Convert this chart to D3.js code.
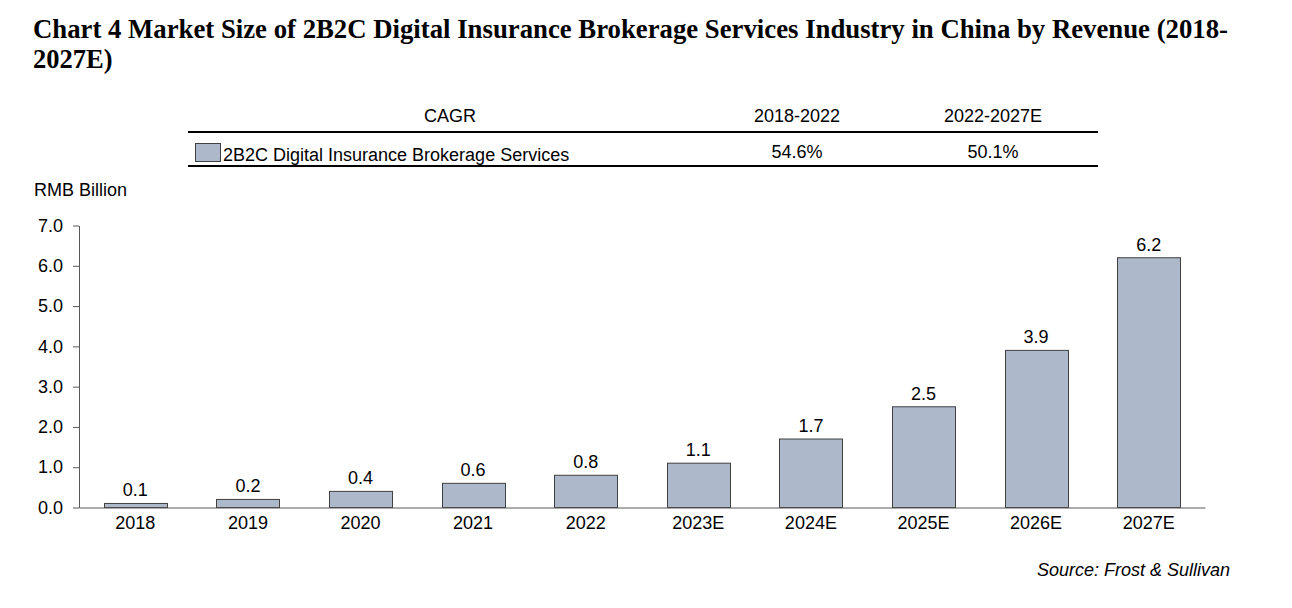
<!DOCTYPE html>
<html><head><meta charset="utf-8">
<script src="https://cdn.jsdelivr.net/npm/d3@7"></script>
<style>body{margin:0;background:#fff;} svg{display:block;}</style>
</head><body>
<svg id="c" width="1292" height="608"></svg>
<script>
const categories = ["2018","2019","2020","2021","2022","2023E","2024E","2025E","2026E","2027E"];
const values = [0.1,0.2,0.4,0.6,0.8,1.1,1.7,2.5,3.9,6.2];
const yTicks = [0,1,2,3,4,5,6,7];
const cagrPeriods = ["2018-2022","2022-2027E"];
const cagrValues = ["54.6%","50.1%"];
const seriesName = "2B2C Digital Insurance Brokerage Services";

const svg = d3.select("#c");
const sans = "Liberation Sans, Arial, sans-serif";
const fs = 18;
const fill = "#adb9ca", stroke = "#404040", axisC = "#595959";

const serif = "Liberation Serif, Times New Roman, serif";
svg.append("text").attr("x",33).attr("y",38).attr("font-family",serif)
  .attr("font-weight","bold").attr("font-size",26.5).attr("fill","#000")
  .attr("textLength",1195).attr("lengthAdjust","spacingAndGlyphs")
  .text("Chart 4 Market Size of 2B2C Digital Insurance Brokerage Services Industry in China by Revenue (2018-");
svg.append("text").attr("x",33).attr("y",68).attr("font-family",serif)
  .attr("font-weight","bold").attr("font-size",26.5).attr("fill","#000").text("2027E)");

// CAGR table
const colX = [797, 993];
svg.append("text").attr("x",450).attr("y",122).attr("text-anchor","middle").attr("font-family",sans).attr("font-size",fs).text("CAGR");
cagrPeriods.forEach((p,i)=>svg.append("text").attr("x",colX[i]).attr("y",122).attr("text-anchor","middle").attr("font-family",sans).attr("font-size",fs).text(p));
svg.append("line").attr("x1",188).attr("x2",1098).attr("y1",132).attr("y2",132).attr("stroke","#000").attr("stroke-width",2);
svg.append("line").attr("x1",188).attr("x2",1098).attr("y1",166).attr("y2",166).attr("stroke","#000").attr("stroke-width",2);
svg.append("rect").attr("x",195.5).attr("y",143.5).attr("width",25).attr("height",18).attr("fill",fill).attr("stroke",stroke).attr("stroke-width",1);
svg.append("text").attr("x",223).attr("y",161).attr("font-family",sans).attr("font-size",fs).text(seriesName);
cagrValues.forEach((v,i)=>svg.append("text").attr("x",colX[i]).attr("y",158).attr("text-anchor","middle").attr("font-family",sans).attr("font-size",fs).text(v));

svg.append("text").attr("x",34).attr("y",196).attr("font-family",sans).attr("font-size",fs).text("RMB Billion");

const x0 = 79, x1 = 1205, yTop = 225.5, yBot = 507.5;
const x = d3.scaleBand().domain(categories).range([x0,x1]).paddingInner(0.44).paddingOuter(0.22);
const y = d3.scaleLinear().domain([0,7]).range([yBot,yTop]);

const yAxis = d3.axisLeft(y).tickValues(yTicks).tickFormat(d3.format(".1f")).tickSize(6).tickSizeOuter(0).tickPadding(10);
const gy = svg.append("g").attr("transform",`translate(${x0},0)`).call(yAxis);
gy.select(".domain").attr("stroke",axisC);
gy.selectAll(".tick line").attr("stroke",axisC);
gy.selectAll(".tick text").attr("font-family",sans).attr("font-size",fs).attr("fill","#000");

svg.selectAll("rect.bar").data(values).enter().append("rect").attr("class","bar")
  .attr("x",(d,i)=>Math.round(x(categories[i]))+0.5).attr("width",Math.round(x.bandwidth()))
  .attr("y",d=>y(d)).attr("height",d=>yBot-y(d))
  .attr("fill",fill).attr("stroke",stroke).attr("stroke-width",1);

svg.selectAll("text.val").data(values).enter().append("text").attr("class","val")
  .attr("x",(d,i)=>x(categories[i])+x.bandwidth()/2).attr("y",d=>y(d)-7)
  .attr("text-anchor","middle").attr("font-family",sans).attr("font-size",fs).text(d=>d.toFixed(1));

const xAxis = d3.axisBottom(x).tickSize(0).tickPadding(9);
const gx = svg.append("g").attr("transform",`translate(0,${yBot})`).call(xAxis);
gx.select(".domain").attr("stroke",axisC);
gx.selectAll(".tick text").attr("font-family",sans).attr("font-size",fs).attr("fill","#000");

svg.append("text").attr("x",1230).attr("y",576).attr("text-anchor","end").attr("font-family",sans)
  .attr("font-style","italic").attr("font-size",fs).text("Source: Frost & Sullivan");
</script>
</body></html>
